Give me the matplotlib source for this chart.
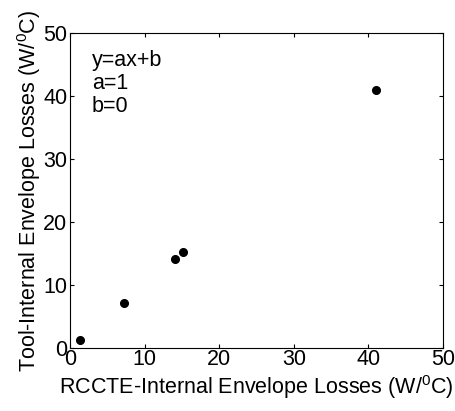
import matplotlib
matplotlib.use('Agg')
import matplotlib.pyplot as plt

# RCCTE vs tool internal envelope losses (W/0C)
rccte = [1.3, 7.2, 14.1, 15.2, 41.0]
tool = [1.3, 7.2, 14.1, 15.3, 41.0]

plt.rcParams['font.family'] = ['Liberation Sans', 'DejaVu Sans']
plt.rcParams['mathtext.fontset'] = 'custom'
plt.rcParams['mathtext.rm'] = 'Liberation Sans'
plt.rcParams['mathtext.it'] = 'Liberation Sans'

fs = 15.5
fig = plt.figure(figsize=(4.56, 4.11), dpi=100)
ax = fig.add_axes([0.1535, 0.1533, 0.818, 0.7664])
ax.plot(rccte, tool, 'o', color='black', markersize=5.5)
ax.set_xlim(0, 50)
ax.set_ylim(0, 50)
ax.set_xticks([0, 10, 20, 30, 40, 50])
ax.set_yticks([0, 10, 20, 30, 40, 50])
ax.tick_params(direction='in', length=3, width=0.8, labelsize=fs,
               top=True, right=True, pad=1)
ax.tick_params(axis='y', pad=2)
ax.set_xlabel('RCCTE-Internal Envelope Losses (W/$^0$C)', fontsize=fs, labelpad=2)
ax.set_ylabel('Tool-Internal Envelope Losses (W/$^0$C)', fontsize=fs, labelpad=0)
ax.text(0.059, 0.945, 'y=ax+b\na=1\nb=0', transform=ax.transAxes,
        fontsize=fs, va='top', ha='left', linespacing=1.12)

fig.savefig('out.png', dpi=100)
